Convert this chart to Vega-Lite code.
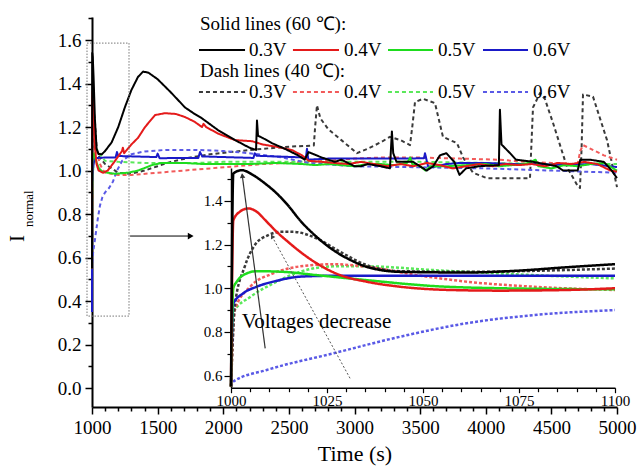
{
  "$schema": "https://vega.github.io/schema/vega-lite/v6.json",
  "width": 525,
  "height": 390,
  "autosize": {"type": "none"},
  "padding": {"left": 92, "top": 17, "right": 23, "bottom": 67},
  "background": "white",
  "config": {
    "view": {"stroke": null},
    "font": "Liberation Serif",
    "text": {"font": "Liberation Serif"},
    "axis": {"grid": false, "domainColor": "#000", "tickColor": "#000", "labelColor": "#000", "titleColor": "#000", "titleFontWeight": "normal", "labelFont": "Liberation Serif", "titleFont": "Liberation Serif", "labelOverlap": false, "labelFlush": false}
  },
  "datasets": {
    "main": [
      {"s":"0.3V-40","t":1000,"v":0.55},{"s":"0.3V-40","t":1002,"v":0.95},{"s":"0.3V-40","t":1004,"v":1.10},{"s":"0.3V-40","t":1006,"v":1.20},{"s":"0.3V-40","t":1010,"v":1.25},{"s":"0.3V-40","t":1016,"v":1.258},{"s":"0.3V-40","t":1022,"v":1.228},{"s":"0.3V-40","t":1028,"v":1.167},{"s":"0.3V-40","t":1035,"v":1.106},{"s":"0.3V-40","t":1044,"v":1.075},{"s":"0.3V-40","t":1060,"v":1.06},{"s":"0.3V-40","t":1100,"v":1.03},{"s":"0.3V-40","t":1200,"v":0.99},{"s":"0.3V-40","t":1290,"v":0.985},{"s":"0.3V-40","t":1400,"v":1.0},{"s":"0.3V-40","t":1500,"v":1.02},{"s":"0.3V-40","t":1600,"v":1.04},{"s":"0.3V-40","t":1750,"v":1.06},{"s":"0.3V-40","t":1900,"v":1.075},{"s":"0.3V-40","t":2050,"v":1.085},{"s":"0.3V-40","t":2300,"v":1.10},{"s":"0.3V-40","t":2510,"v":1.11},{"s":"0.3V-40","t":2690,"v":1.115},{"s":"0.3V-40","t":2700,"v":1.20},{"s":"0.3V-40","t":2714,"v":1.30},{"s":"0.3V-40","t":2740,"v":1.24},{"s":"0.3V-40","t":2800,"v":1.19},{"s":"0.3V-40","t":2900,"v":1.14},{"s":"0.3V-40","t":3019,"v":1.08},{"s":"0.3V-40","t":3100,"v":1.10},{"s":"0.3V-40","t":3200,"v":1.13},{"s":"0.3V-40","t":3270,"v":1.155},{"s":"0.3V-40","t":3350,"v":1.14},{"s":"0.3V-40","t":3423,"v":1.117},{"s":"0.3V-40","t":3440,"v":1.20},{"s":"0.3V-40","t":3461,"v":1.315},{"s":"0.3V-40","t":3522,"v":1.33},{"s":"0.3V-40","t":3613,"v":1.31},{"s":"0.3V-40","t":3674,"v":1.155},{"s":"0.3V-40","t":3781,"v":1.126},{"s":"0.3V-40","t":3827,"v":1.06},{"s":"0.3V-40","t":3903,"v":0.99},{"s":"0.3V-40","t":4010,"v":0.965},{"s":"0.3V-40","t":4337,"v":0.965},{"s":"0.3V-40","t":4360,"v":1.29},{"s":"0.3V-40","t":4413,"v":1.356},{"s":"0.3V-40","t":4450,"v":1.33},{"s":"0.3V-40","t":4512,"v":1.22},{"s":"0.3V-40","t":4619,"v":1.016},{"s":"0.3V-40","t":4700,"v":0.93},{"s":"0.3V-40","t":4718,"v":0.92},{"s":"0.3V-40","t":4730,"v":1.10},{"s":"0.3V-40","t":4741,"v":1.35},{"s":"0.3V-40","t":4817,"v":1.34},{"s":"0.3V-40","t":4924,"v":1.14},{"s":"0.3V-40","t":5000,"v":0.924},
      {"s":"0.4V-40","t":1000,"v":0.55},{"s":"0.4V-40","t":1005,"v":1.007},{"s":"0.4V-40","t":1011,"v":1.068},{"s":"0.4V-40","t":1018,"v":1.10},{"s":"0.4V-40","t":1027,"v":1.11},{"s":"0.4V-40","t":1035,"v":1.098},{"s":"0.4V-40","t":1048,"v":1.06},{"s":"0.4V-40","t":1061,"v":1.03},{"s":"0.4V-40","t":1079,"v":1.007},{"s":"0.4V-40","t":1100,"v":0.99},{"s":"0.4V-40","t":1200,"v":0.98},{"s":"0.4V-40","t":1300,"v":0.98},{"s":"0.4V-40","t":1500,"v":0.99},{"s":"0.4V-40","t":1700,"v":1.0},{"s":"0.4V-40","t":1900,"v":1.01},{"s":"0.4V-40","t":2100,"v":1.02},{"s":"0.4V-40","t":2300,"v":1.03},{"s":"0.4V-40","t":2500,"v":1.035},{"s":"0.4V-40","t":2800,"v":1.045},{"s":"0.4V-40","t":3000,"v":1.055},{"s":"0.4V-40","t":3200,"v":1.06},{"s":"0.4V-40","t":3500,"v":1.06},{"s":"0.4V-40","t":3800,"v":1.055},{"s":"0.4V-40","t":4100,"v":1.05},{"s":"0.4V-40","t":4300,"v":1.04},{"s":"0.4V-40","t":4500,"v":1.035},{"s":"0.4V-40","t":4700,"v":1.03},{"s":"0.4V-40","t":4720,"v":1.09},{"s":"0.4V-40","t":4741,"v":1.117},{"s":"0.4V-40","t":4800,"v":1.10},{"s":"0.4V-40","t":4900,"v":1.07},{"s":"0.4V-40","t":5000,"v":1.05},
      {"s":"0.5V-40","t":1000,"v":0.55},{"s":"0.5V-40","t":1001,"v":0.89},{"s":"0.5V-40","t":1005,"v":0.96},{"s":"0.5V-40","t":1011,"v":1.022},{"s":"0.5V-40","t":1018,"v":1.075},{"s":"0.5V-40","t":1027,"v":1.10},{"s":"0.5V-40","t":1035,"v":1.10},{"s":"0.5V-40","t":1053,"v":1.083},{"s":"0.5V-40","t":1079,"v":1.06},{"s":"0.5V-40","t":1100,"v":1.045},{"s":"0.5V-40","t":1200,"v":1.04},{"s":"0.5V-40","t":1400,"v":1.035},{"s":"0.5V-40","t":1600,"v":1.035},{"s":"0.5V-40","t":1800,"v":1.035},{"s":"0.5V-40","t":2000,"v":1.04},{"s":"0.5V-40","t":2500,"v":1.04},{"s":"0.5V-40","t":3000,"v":1.04},{"s":"0.5V-40","t":3500,"v":1.04},{"s":"0.5V-40","t":4000,"v":1.035},{"s":"0.5V-40","t":4500,"v":1.03},{"s":"0.5V-40","t":5000,"v":1.03},
      {"s":"0.6V-40","t":1000,"v":0.35},{"s":"0.6V-40","t":1001,"v":0.573},{"s":"0.6V-40","t":1009,"v":0.626},{"s":"0.6V-40","t":1027,"v":0.702},{"s":"0.6V-40","t":1044,"v":0.778},{"s":"0.6V-40","t":1061,"v":0.84},{"s":"0.6V-40","t":1079,"v":0.877},{"s":"0.6V-40","t":1100,"v":0.90},{"s":"0.6V-40","t":1130,"v":0.92},{"s":"0.6V-40","t":1160,"v":0.95},{"s":"0.6V-40","t":1190,"v":1.0},{"s":"0.6V-40","t":1230,"v":1.045},{"s":"0.6V-40","t":1300,"v":1.075},{"s":"0.6V-40","t":1400,"v":1.088},{"s":"0.6V-40","t":1560,"v":1.095},{"s":"0.6V-40","t":1800,"v":1.095},{"s":"0.6V-40","t":2000,"v":1.09},{"s":"0.6V-40","t":2200,"v":1.08},{"s":"0.6V-40","t":2450,"v":1.06},{"s":"0.6V-40","t":2650,"v":1.035},{"s":"0.6V-40","t":3000,"v":1.02},{"s":"0.6V-40","t":3500,"v":1.015},{"s":"0.6V-40","t":4000,"v":1.01},{"s":"0.6V-40","t":4500,"v":1.0},{"s":"0.6V-40","t":5000,"v":0.99},
      {"s":"0.6V-60","t":1000,"v":0.35},{"s":"0.6V-60","t":1001,"v":0.93},{"s":"0.6V-60","t":1007,"v":1.007},{"s":"0.6V-60","t":1018,"v":1.053},{"s":"0.6V-60","t":1040,"v":1.058},{"s":"0.6V-60","t":1100,"v":1.06},{"s":"0.6V-60","t":1180,"v":1.06},{"s":"0.6V-60","t":1190,"v":1.085},{"s":"0.6V-60","t":1200,"v":1.067},{"s":"0.6V-60","t":1490,"v":1.062},{"s":"0.6V-60","t":1500,"v":1.078},{"s":"0.6V-60","t":1515,"v":1.057},{"s":"0.6V-60","t":1810,"v":1.058},{"s":"0.6V-60","t":1823,"v":1.085},{"s":"0.6V-60","t":1840,"v":1.065},{"s":"0.6V-60","t":2230,"v":1.058},{"s":"0.6V-60","t":2240,"v":1.08},{"s":"0.6V-60","t":2255,"v":1.068},{"s":"0.6V-60","t":2630,"v":1.06},{"s":"0.6V-60","t":2638,"v":1.10},{"s":"0.6V-60","t":2648,"v":1.05},{"s":"0.6V-60","t":2800,"v":1.055},{"s":"0.6V-60","t":3000,"v":1.055},{"s":"0.6V-60","t":3200,"v":1.055},{"s":"0.6V-60","t":3400,"v":1.055},{"s":"0.6V-60","t":3530,"v":1.057},{"s":"0.6V-60","t":3537,"v":1.08},{"s":"0.6V-60","t":3560,"v":1.02},{"s":"0.6V-60","t":3600,"v":1.016},{"s":"0.6V-60","t":3700,"v":1.03},{"s":"0.6V-60","t":3800,"v":1.035},{"s":"0.6V-60","t":4000,"v":1.035},{"s":"0.6V-60","t":4200,"v":1.03},{"s":"0.6V-60","t":4400,"v":1.03},{"s":"0.6V-60","t":4600,"v":1.025},{"s":"0.6V-60","t":4800,"v":1.03},{"s":"0.6V-60","t":5000,"v":1.016},
      {"s":"0.5V-60","t":1000,"v":0.55},{"s":"0.5V-60","t":1002,"v":1.03},{"s":"0.5V-60","t":1007,"v":1.078},{"s":"0.5V-60","t":1014,"v":1.075},{"s":"0.5V-60","t":1035,"v":1.037},{"s":"0.5V-60","t":1053,"v":1.01},{"s":"0.5V-60","t":1080,"v":0.995},{"s":"0.5V-60","t":1120,"v":0.99},{"s":"0.5V-60","t":1175,"v":0.985},{"s":"0.5V-60","t":1274,"v":0.99},{"s":"0.5V-60","t":1350,"v":1.0},{"s":"0.5V-60","t":1457,"v":1.025},{"s":"0.5V-60","t":1530,"v":1.035},{"s":"0.5V-60","t":1700,"v":1.035},{"s":"0.5V-60","t":1850,"v":1.03},{"s":"0.5V-60","t":2000,"v":1.03},{"s":"0.5V-60","t":2200,"v":1.03},{"s":"0.5V-60","t":2400,"v":1.035},{"s":"0.5V-60","t":2600,"v":1.03},{"s":"0.5V-60","t":2700,"v":1.025},{"s":"0.5V-60","t":2800,"v":1.03},{"s":"0.5V-60","t":2900,"v":1.025},{"s":"0.5V-60","t":3000,"v":1.02},{"s":"0.5V-60","t":3100,"v":1.03},{"s":"0.5V-60","t":3200,"v":1.03},{"s":"0.5V-60","t":3300,"v":1.025},{"s":"0.5V-60","t":3400,"v":1.035},{"s":"0.5V-60","t":3425,"v":1.06},{"s":"0.5V-60","t":3440,"v":1.03},{"s":"0.5V-60","t":3500,"v":1.02},{"s":"0.5V-60","t":3540,"v":1.0},{"s":"0.5V-60","t":3580,"v":1.02},{"s":"0.5V-60","t":3700,"v":1.02},{"s":"0.5V-60","t":3850,"v":1.025},{"s":"0.5V-60","t":4000,"v":1.03},{"s":"0.5V-60","t":4100,"v":1.02},{"s":"0.5V-60","t":4200,"v":1.025},{"s":"0.5V-60","t":4300,"v":1.03},{"s":"0.5V-60","t":4380,"v":1.05},{"s":"0.5V-60","t":4400,"v":1.02},{"s":"0.5V-60","t":4500,"v":1.01},{"s":"0.5V-60","t":4600,"v":1.025},{"s":"0.5V-60","t":4700,"v":1.02},{"s":"0.5V-60","t":4800,"v":1.03},{"s":"0.5V-60","t":4900,"v":1.035},{"s":"0.5V-60","t":5000,"v":1.0},
      {"s":"0.4V-60","t":1000,"v":0.55},{"s":"0.4V-60","t":1002,"v":1.33},{"s":"0.4V-60","t":1005,"v":1.365},{"s":"0.4V-60","t":1012,"v":1.26},{"s":"0.4V-60","t":1022,"v":1.11},{"s":"0.4V-60","t":1035,"v":1.03},{"s":"0.4V-60","t":1050,"v":1.0},{"s":"0.4V-60","t":1084,"v":0.99},{"s":"0.4V-60","t":1120,"v":1.0},{"s":"0.4V-60","t":1170,"v":1.04},{"s":"0.4V-60","t":1229,"v":1.09},{"s":"0.4V-60","t":1235,"v":1.105},{"s":"0.4V-60","t":1245,"v":1.08},{"s":"0.4V-60","t":1300,"v":1.12},{"s":"0.4V-60","t":1350,"v":1.15},{"s":"0.4V-60","t":1404,"v":1.20},{"s":"0.4V-60","t":1480,"v":1.255},{"s":"0.4V-60","t":1556,"v":1.264},{"s":"0.4V-60","t":1640,"v":1.26},{"s":"0.4V-60","t":1709,"v":1.246},{"s":"0.4V-60","t":1780,"v":1.225},{"s":"0.4V-60","t":1838,"v":1.20},{"s":"0.4V-60","t":1850,"v":1.215},{"s":"0.4V-60","t":1870,"v":1.20},{"s":"0.4V-60","t":1960,"v":1.17},{"s":"0.4V-60","t":2090,"v":1.14},{"s":"0.4V-60","t":2219,"v":1.135},{"s":"0.4V-60","t":2300,"v":1.12},{"s":"0.4V-60","t":2400,"v":1.11},{"s":"0.4V-60","t":2524,"v":1.094},{"s":"0.4V-60","t":2600,"v":1.07},{"s":"0.4V-60","t":2650,"v":1.045},{"s":"0.4V-60","t":2750,"v":1.04},{"s":"0.4V-60","t":2850,"v":1.035},{"s":"0.4V-60","t":2950,"v":1.03},{"s":"0.4V-60","t":3050,"v":1.04},{"s":"0.4V-60","t":3150,"v":1.03},{"s":"0.4V-60","t":3250,"v":1.02},{"s":"0.4V-60","t":3350,"v":1.03},{"s":"0.4V-60","t":3450,"v":1.02},{"s":"0.4V-60","t":3550,"v":1.035},{"s":"0.4V-60","t":3650,"v":1.025},{"s":"0.4V-60","t":3750,"v":1.01},{"s":"0.4V-60","t":3850,"v":1.02},{"s":"0.4V-60","t":3950,"v":1.03},{"s":"0.4V-60","t":4050,"v":1.02},{"s":"0.4V-60","t":4150,"v":1.03},{"s":"0.4V-60","t":4250,"v":1.025},{"s":"0.4V-60","t":4350,"v":1.03},{"s":"0.4V-60","t":4450,"v":1.02},{"s":"0.4V-60","t":4550,"v":1.035},{"s":"0.4V-60","t":4650,"v":1.03},{"s":"0.4V-60","t":4750,"v":1.04},{"s":"0.4V-60","t":4850,"v":1.03},{"s":"0.4V-60","t":4950,"v":1.0},{"s":"0.4V-60","t":5000,"v":0.995},
      {"s":"0.3V-60","t":1000,"v":0.55},{"s":"0.3V-60","t":1002,"v":1.54},{"s":"0.3V-60","t":1006,"v":1.52},{"s":"0.3V-60","t":1012,"v":1.43},{"s":"0.3V-60","t":1022,"v":1.24},{"s":"0.3V-60","t":1035,"v":1.10},{"s":"0.3V-60","t":1050,"v":1.076},{"s":"0.3V-60","t":1075,"v":1.075},{"s":"0.3V-60","t":1100,"v":1.09},{"s":"0.3V-60","t":1150,"v":1.13},{"s":"0.3V-60","t":1200,"v":1.20},{"s":"0.3V-60","t":1250,"v":1.29},{"s":"0.3V-60","t":1300,"v":1.37},{"s":"0.3V-60","t":1350,"v":1.43},{"s":"0.3V-60","t":1389,"v":1.455},{"s":"0.3V-60","t":1430,"v":1.45},{"s":"0.3V-60","t":1500,"v":1.42},{"s":"0.3V-60","t":1600,"v":1.36},{"s":"0.3V-60","t":1709,"v":1.29},{"s":"0.3V-60","t":1770,"v":1.265},{"s":"0.3V-60","t":1838,"v":1.24},{"s":"0.3V-60","t":1960,"v":1.186},{"s":"0.3V-60","t":2090,"v":1.14},{"s":"0.3V-60","t":2200,"v":1.105},{"s":"0.3V-60","t":2250,"v":1.095},{"s":"0.3V-60","t":2257,"v":1.23},{"s":"0.3V-60","t":2265,"v":1.16},{"s":"0.3V-60","t":2300,"v":1.15},{"s":"0.3V-60","t":2371,"v":1.126},{"s":"0.3V-60","t":2470,"v":1.10},{"s":"0.3V-60","t":2570,"v":1.07},{"s":"0.3V-60","t":2620,"v":1.05},{"s":"0.3V-60","t":2650,"v":1.085},{"s":"0.3V-60","t":2750,"v":1.06},{"s":"0.3V-60","t":2850,"v":1.04},{"s":"0.3V-60","t":2900,"v":1.05},{"s":"0.3V-60","t":3000,"v":1.02},{"s":"0.3V-60","t":3050,"v":1.02},{"s":"0.3V-60","t":3100,"v":1.03},{"s":"0.3V-60","t":3200,"v":1.02},{"s":"0.3V-60","t":3270,"v":1.01},{"s":"0.3V-60","t":3285,"v":1.18},{"s":"0.3V-60","t":3295,"v":1.08},{"s":"0.3V-60","t":3320,"v":1.04},{"s":"0.3V-60","t":3446,"v":1.04},{"s":"0.3V-60","t":3550,"v":1.0},{"s":"0.3V-60","t":3600,"v":1.02},{"s":"0.3V-60","t":3651,"v":1.07},{"s":"0.3V-60","t":3700,"v":1.08},{"s":"0.3V-60","t":3760,"v":1.04},{"s":"0.3V-60","t":3800,"v":0.98},{"s":"0.3V-60","t":3850,"v":1.01},{"s":"0.3V-60","t":3950,"v":1.02},{"s":"0.3V-60","t":4100,"v":1.025},{"s":"0.3V-60","t":4108,"v":1.28},{"s":"0.3V-60","t":4120,"v":1.12},{"s":"0.3V-60","t":4185,"v":1.08},{"s":"0.3V-60","t":4230,"v":1.05},{"s":"0.3V-60","t":4360,"v":1.04},{"s":"0.3V-60","t":4450,"v":1.03},{"s":"0.3V-60","t":4540,"v":1.02},{"s":"0.3V-60","t":4590,"v":1.0},{"s":"0.3V-60","t":4700,"v":1.0},{"s":"0.3V-60","t":4720,"v":1.05},{"s":"0.3V-60","t":4794,"v":1.05},{"s":"0.3V-60","t":4900,"v":1.04},{"s":"0.3V-60","t":4960,"v":1.0},{"s":"0.3V-60","t":5000,"v":0.965}
    ],
    "inset": [
      {"s":"0.6V-40","t":1000,"v":0.55},{"s":"0.6V-40","t":1000.6,"v":0.573},{"s":"0.6V-40","t":1009.3,"v":0.626},{"s":"0.6V-40","t":1026.6,"v":0.702},{"s":"0.6V-40","t":1044,"v":0.778},{"s":"0.6V-40","t":1061.4,"v":0.84},{"s":"0.6V-40","t":1078.7,"v":0.877},{"s":"0.6V-40","t":1100,"v":0.9},
      {"s":"0.5V-40","t":1000,"v":0.55},{"s":"0.5V-40","t":1000.6,"v":0.89},{"s":"0.5V-40","t":1005,"v":0.96},{"s":"0.5V-40","t":1011,"v":1.022},{"s":"0.5V-40","t":1018,"v":1.075},{"s":"0.5V-40","t":1026.6,"v":1.1},{"s":"0.5V-40","t":1035.3,"v":1.1},{"s":"0.5V-40","t":1052.7,"v":1.083},{"s":"0.5V-40","t":1078.7,"v":1.06},{"s":"0.5V-40","t":1100,"v":1.045},
      {"s":"0.4V-40","t":1000,"v":0.55},{"s":"0.4V-40","t":1001,"v":0.9},{"s":"0.4V-40","t":1005,"v":1.007},{"s":"0.4V-40","t":1011,"v":1.068},{"s":"0.4V-40","t":1018,"v":1.1},{"s":"0.4V-40","t":1026.6,"v":1.11},{"s":"0.4V-40","t":1035.3,"v":1.098},{"s":"0.4V-40","t":1048.4,"v":1.06},{"s":"0.4V-40","t":1061.4,"v":1.03},{"s":"0.4V-40","t":1078.7,"v":1.007},{"s":"0.4V-40","t":1100,"v":0.992},
      {"s":"0.3V-40","t":1000,"v":0.55},{"s":"0.3V-40","t":1001,"v":0.92},{"s":"0.3V-40","t":1003.6,"v":1.1},{"s":"0.3V-40","t":1006.3,"v":1.2},{"s":"0.3V-40","t":1009.7,"v":1.243},{"s":"0.3V-40","t":1013,"v":1.258},{"s":"0.3V-40","t":1016.2,"v":1.258},{"s":"0.3V-40","t":1022.3,"v":1.228},{"s":"0.3V-40","t":1028.4,"v":1.167},{"s":"0.3V-40","t":1035.3,"v":1.106},{"s":"0.3V-40","t":1044,"v":1.078},{"s":"0.3V-40","t":1061.4,"v":1.075},{"s":"0.3V-40","t":1080,"v":1.08},{"s":"0.3V-40","t":1100,"v":1.09},
      {"s":"0.6V-60","t":1000,"v":0.55},{"s":"0.6V-60","t":1000.6,"v":0.93},{"s":"0.6V-60","t":1003.2,"v":0.977},{"s":"0.6V-60","t":1006.7,"v":1.007},{"s":"0.6V-60","t":1011.9,"v":1.034},{"s":"0.6V-60","t":1018,"v":1.053},{"s":"0.6V-60","t":1026.6,"v":1.057},{"s":"0.6V-60","t":1100,"v":1.057},
      {"s":"0.5V-60","t":1000,"v":0.55},{"s":"0.5V-60","t":1000.6,"v":1.0},{"s":"0.5V-60","t":1001.5,"v":1.03},{"s":"0.5V-60","t":1003.2,"v":1.06},{"s":"0.5V-60","t":1006.7,"v":1.078},{"s":"0.5V-60","t":1013.6,"v":1.075},{"s":"0.5V-60","t":1022.3,"v":1.06},{"s":"0.5V-60","t":1035.3,"v":1.037},{"s":"0.5V-60","t":1052.7,"v":1.01},{"s":"0.5V-60","t":1070,"v":1.0},{"s":"0.5V-60","t":1100,"v":0.995},
      {"s":"0.4V-60","t":1000,"v":0.55},{"s":"0.4V-60","t":1000.6,"v":1.31},{"s":"0.4V-60","t":1002.3,"v":1.35},{"s":"0.4V-60","t":1004.5,"v":1.365},{"s":"0.4V-60","t":1006.7,"v":1.35},{"s":"0.4V-60","t":1009,"v":1.31},{"s":"0.4V-60","t":1011.9,"v":1.258},{"s":"0.4V-60","t":1015,"v":1.21},{"s":"0.4V-60","t":1018,"v":1.167},{"s":"0.4V-60","t":1022.3,"v":1.114},{"s":"0.4V-60","t":1028.4,"v":1.06},{"s":"0.4V-60","t":1035.3,"v":1.03},{"s":"0.4V-60","t":1044,"v":1.007},{"s":"0.4V-60","t":1057,"v":0.992},{"s":"0.4V-60","t":1070,"v":0.989},{"s":"0.4V-60","t":1087.4,"v":0.992},{"s":"0.4V-60","t":1100,"v":1.0},
      {"s":"0.3V-60","t":1000,"v":0.55},{"s":"0.3V-60","t":1000.6,"v":1.525},{"s":"0.3V-60","t":1002.8,"v":1.54},{"s":"0.3V-60","t":1005.8,"v":1.517},{"s":"0.3V-60","t":1008.8,"v":1.48},{"s":"0.3V-60","t":1011.9,"v":1.434},{"s":"0.3V-60","t":1014.8,"v":1.38},{"s":"0.3V-60","t":1018,"v":1.31},{"s":"0.3V-60","t":1022.3,"v":1.235},{"s":"0.3V-60","t":1026.6,"v":1.175},{"s":"0.3V-60","t":1031,"v":1.13},{"s":"0.3V-60","t":1035.3,"v":1.098},{"s":"0.3V-60","t":1044,"v":1.075},{"s":"0.3V-60","t":1061.4,"v":1.072},{"s":"0.3V-60","t":1074.4,"v":1.08},{"s":"0.3V-60","t":1087.4,"v":1.096},{"s":"0.3V-60","t":1100,"v":1.11}
    ],
    "legend": [
      {"s":"0.3V-60","label":"0.3V","t1":1815,"t2":2166,"tl":2196,"v":1.554},
      {"s":"0.4V-60","label":"0.4V","t1":2531,"t2":2882,"tl":2920,"v":1.554},
      {"s":"0.5V-60","label":"0.5V","t1":3255,"t2":3598,"tl":3636,"v":1.554},
      {"s":"0.6V-60","label":"0.6V","t1":3979,"t2":4322,"tl":4360,"v":1.554},
      {"s":"0.3V-40","label":"0.3V","t1":1815,"t2":2166,"tl":2196,"v":1.361},
      {"s":"0.4V-40","label":"0.4V","t1":2531,"t2":2882,"tl":2920,"v":1.361},
      {"s":"0.5V-40","label":"0.5V","t1":3255,"t2":3598,"tl":3636,"v":1.361},
      {"s":"0.6V-40","label":"0.6V","t1":3979,"t2":4322,"tl":4360,"v":1.361}
    ],
    "legendTitles": [
      {"text":"Solid lines (60 ℃):","t":1823,"v":1.672},
      {"text":"Dash lines (40 ℃):","t":1823,"v":1.46}
    ]
  },
  "layer": [
    {
      "layer": [
        {
          "data": {"name": "main"},
          "mark": {"type": "line", "strokeJoin": "round"},
          "encoding": {
            "x": {"field": "t", "type": "quantitative", "scale": {"domain": [1000, 5000], "nice": false, "zero": false},
              "axis": {"title": "Time (s)", "orient": "bottom", "values": [1000,1500,2000,2500,3000,3500,4000,4500,5000], "format": "d",
                "tickSize": 7, "domainWidth": 2, "tickWidth": 1.5, "labelFontSize": 19, "titleFontSize": 22, "labelPadding": 4, "titlePadding": 6}},
            "y": {"field": "v", "type": "quantitative", "scale": {"domain": [-0.087, 1.706], "nice": false, "zero": false},
              "axis": {"title": "I", "orient": "left", "values": [0,0.2,0.4,0.6,0.8,1.0,1.2,1.4,1.6], "format": ".1f",
                "tickSize": 7, "domainWidth": 2, "tickWidth": 1.5, "labelFontSize": 19, "labelPadding": 4,
                "titleFontSize": 21, "titleAngle": 270, "titleX": -75, "titleY": 221, "titleAlign": "center", "titleBaseline": "middle"}},
            "color": {"field": "s", "type": "nominal", "legend": null,
              "scale": {"domain": ["0.3V-60","0.4V-60","0.5V-60","0.6V-60","0.3V-40","0.4V-40","0.5V-40","0.6V-40"],
                "range": ["#000000","#e41a1a","#1edc1e","#1a1ac8","#3a3a3a","#f25a5a","#5ae85a","#5a5ae6"]}},
            "strokeDash": {"field": "s", "type": "nominal", "legend": null,
              "scale": {"domain": ["0.3V-60","0.4V-60","0.5V-60","0.6V-60","0.3V-40","0.4V-40","0.5V-40","0.6V-40"],
                "range": [[1,0],[1,0],[1,0],[1,0],[4,3],[4,3],[4,3],[4,3]]}},
            "strokeWidth": {"field": "s", "type": "nominal", "legend": null,
              "scale": {"domain": ["0.3V-60","0.4V-60","0.5V-60","0.6V-60","0.3V-40","0.4V-40","0.5V-40","0.6V-40"],
                "range": [2,2,2,2,1.2,1.2,1.2,1.2]}}
          }
        },
        {
          "data": {"values": [{}]},
          "mark": {"type": "rect", "fillOpacity": 0, "stroke": "#777777", "strokeWidth": 1, "strokeDash": [1.5, 1.5]},
          "encoding": {
            "x": {"datum": 962, "type": "quantitative", "axis": {"title": null, "orient": "bottom", "labels": false, "domain": false, "tickSize": 4, "tickWidth": 1.5,
              "values": [1100,1200,1300,1400,1600,1700,1800,1900,2100,2200,2300,2400,2600,2700,2800,2900,3100,3200,3300,3400,3600,3700,3800,3900,4100,4200,4300,4400,4600,4700,4800,4900]}},
            "x2": {"datum": 1282},
            "y": {"datum": 0.331, "type": "quantitative", "axis": {"title": null, "orient": "left", "labels": false, "domain": false, "tickSize": 4, "tickWidth": 1.5,
              "values": [0.1,0.3,0.5,0.7,0.9,1.1,1.3,1.5,1.7]}},
            "y2": {"datum": 1.586}
          }
        },
        {
          "data": {"values": [{}]},
          "mark": {"type": "rule", "stroke": "#000000", "strokeWidth": 1},
          "encoding": {"x": {"datum": 1290, "type": "quantitative", "axis": null}, "x2": {"datum": 1755}, "y": {"datum": 0.699, "type": "quantitative", "axis": null}}
        },
        {
          "data": {"values": [{}]},
          "mark": {"type": "point", "shape": "triangle-right", "filled": true, "color": "#000000", "size": 45, "opacity": 1},
          "encoding": {"x": {"datum": 1752, "type": "quantitative", "axis": null}, "y": {"datum": 0.699, "type": "quantitative", "axis": null}}
        },
        {
          "data": {"name": "legend"},
          "mark": {"type": "rule"},
          "encoding": {
            "x": {"field": "t1", "type": "quantitative", "axis": null}, "x2": {"field": "t2"},
            "y": {"field": "v", "type": "quantitative", "axis": null},
            "color": {"field": "s", "type": "nominal", "legend": null},
            "strokeDash": {"field": "s", "type": "nominal", "legend": null},
            "strokeWidth": {"field": "s", "type": "nominal", "legend": null}
          }
        },
        {
          "data": {"name": "legend"},
          "mark": {"type": "text", "align": "left", "baseline": "middle", "font": "Liberation Serif", "fontSize": 19, "color": "#000000"},
          "encoding": {"x": {"field": "tl", "type": "quantitative", "axis": null}, "y": {"field": "v", "type": "quantitative", "axis": null}, "text": {"field": "label"}}
        },
        {
          "data": {"name": "legendTitles"},
          "mark": {"type": "text", "align": "left", "baseline": "middle", "font": "Liberation Serif", "fontSize": 19, "color": "#000000"},
          "encoding": {"x": {"field": "t", "type": "quantitative", "axis": null}, "y": {"field": "v", "type": "quantitative", "axis": null}, "text": {"field": "text"}}
        },
        {
          "data": {"values": [{}]},
          "mark": {"type": "text", "align": "left", "baseline": "alphabetic", "angle": 270, "font": "Liberation Serif", "fontSize": 13, "color": "#000000"},
          "encoding": {"x": {"datum": 550, "type": "quantitative", "axis": null}, "y": {"datum": 0.74, "type": "quantitative", "axis": null}, "text": {"value": "normal"}}
        }
      ],
      "resolve": {"axis": {"x": "independent", "y": "independent"}}
    },
    {
      "layer": [
        {
          "data": {"name": "inset"},
          "mark": {"type": "line", "interpolate": "monotone", "strokeJoin": "round"},
          "encoding": {
            "x": {"field": "t", "type": "quantitative", "scale": {"domain": [1000, 1100], "range": [139, 523], "nice": false, "zero": false},
              "axis": {"title": null, "orient": "bottom", "offset": -19.3, "values": [1000,1025,1050,1075,1100], "format": "d",
                "tickSize": 5, "domainWidth": 1.5, "tickWidth": 1.2, "labelFontSize": 15, "labelPadding": 1}},
            "y": {"field": "v", "type": "quantitative", "scale": {"domain": [0.545, 1.55], "range": [370.7, 151], "nice": false, "zero": false},
              "axis": {"title": null, "orient": "left", "offset": -139, "values": [0.6,0.8,1.0,1.2,1.4], "format": ".1f",
                "tickSize": 7, "domainWidth": 1.5, "tickWidth": 1.2, "labelFontSize": 15, "labelPadding": 2}},
            "color": {"field": "s", "type": "nominal", "legend": null},
            "strokeDash": {"field": "s", "type": "nominal", "legend": null,
              "scale": {"domain": ["0.3V-60","0.4V-60","0.5V-60","0.6V-60","0.3V-40","0.4V-40","0.5V-40","0.6V-40"],
                "range": [[1,0],[1,0],[1,0],[1,0],[3,2],[3,2],[3,2],[3,2]]}},
            "strokeWidth": {"field": "s", "type": "nominal", "legend": null,
              "scale": {"domain": ["0.3V-60","0.4V-60","0.5V-60","0.6V-60","0.3V-40","0.4V-40","0.5V-40","0.6V-40"],
                "range": [2.5,2.5,2.5,2.5,1,1,1,1]}}
          }
        },
        {
          "data": {"values": [{}]},
          "mark": {"type": "rule", "stroke": "#333333", "strokeWidth": 1.2},
          "encoding": {"x": {"datum": 1008.9, "type": "quantitative", "axis": null}, "x2": {"datum": 1002.9}, "y": {"datum": 0.725, "type": "quantitative", "axis": null}, "y2": {"datum": 1.52}}
        },
        {
          "data": {"values": [{}]},
          "mark": {"type": "point", "shape": "triangle-up", "filled": true, "color": "#333333", "size": 30, "opacity": 1, "angle": 352.5},
          "encoding": {"x": {"datum": 1002.95, "type": "quantitative", "axis": null}, "y": {"datum": 1.515, "type": "quantitative", "axis": null}}
        },
        {
          "data": {"values": [{}]},
          "mark": {"type": "rule", "stroke": "#555555", "strokeWidth": 1, "strokeDash": [2, 2]},
          "encoding": {"x": {"datum": 1031, "type": "quantitative", "axis": null}, "x2": {"datum": 1010.6}, "y": {"datum": 0.588, "type": "quantitative", "axis": null}, "y2": {"datum": 1.24}}
        },
        {
          "data": {"values": [{}]},
          "mark": {"type": "point", "shape": "triangle-up", "filled": true, "color": "#444444", "size": 25, "opacity": 1, "angle": 331},
          "encoding": {"x": {"datum": 1010.7, "type": "quantitative", "axis": null}, "y": {"datum": 1.237, "type": "quantitative", "axis": null}}
        },
        {
          "data": {"values": [{}]},
          "mark": {"type": "text", "align": "left", "baseline": "alphabetic", "font": "Liberation Serif", "fontSize": 21, "color": "#000000"},
          "encoding": {
            "x": {"datum": 1002.8, "type": "quantitative", "axis": {"title": null, "orient": "bottom", "offset": -19.3, "labels": false, "domain": false, "tickSize": 4, "tickWidth": 1.2,
              "values": [1005,1010,1015,1020,1030,1035,1040,1045,1055,1060,1065,1070,1080,1085,1090,1095]}},
            "y": {"datum": 0.818, "type": "quantitative", "axis": {"title": null, "orient": "left", "offset": -139, "labels": false, "domain": false, "tickSize": 4, "tickWidth": 1.2,
              "values": [0.7,0.9,1.1,1.3,1.5]}},
            "text": {"value": "Voltages decrease"}
          }
        }
      ],
      "resolve": {"axis": {"x": "independent", "y": "independent"}}
    }
  ],
  "resolve": {"scale": {"x": "independent", "y": "independent", "strokeWidth": "independent", "strokeDash": "independent"}}
}
